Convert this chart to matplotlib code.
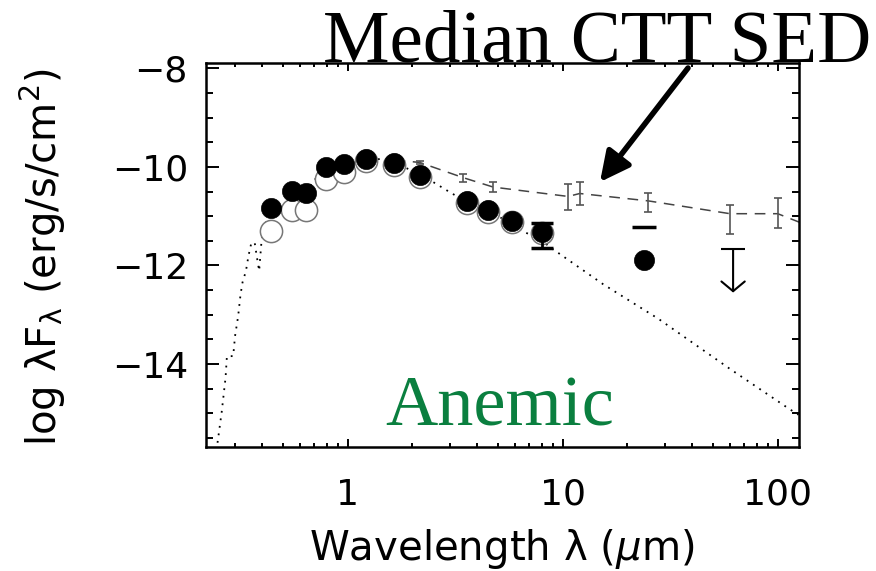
import matplotlib
matplotlib.use("Agg")
import matplotlib.pyplot as plt
from matplotlib.ticker import MultipleLocator, LogLocator, FixedLocator, FixedFormatter, NullFormatter

# photosphere model (um, log lambda F_lambda)
lam_model = [0.245, 0.249, 0.259, 0.270, 0.274, 0.293, 0.299, 0.309, 0.317, 0.324,
             0.336, 0.345, 0.356, 0.369, 0.378, 0.387, 0.397, 0.411, 0.418, 0.44,
             0.47, 0.50, 0.55, 0.60, 0.65, 0.72, 0.80, 0.90, 1.0, 1.2, 1.43, 1.65,
             2.0, 2.2, 2.5, 3.0, 3.6, 4.5, 5.8, 6.3, 8.0, 9.0, 15.4, 27.8, 60.0,
             113.0, 125.0]
logf_model = [-15.75, -15.53, -14.98, -14.28, -13.84, -13.84, -13.43, -13.03, -12.59, -12.34,
              -12.11, -11.81, -11.54, -11.54, -11.84, -12.11, -11.50, -11.25, -11.06, -10.95,
              -10.90, -10.80, -10.62, -10.50, -10.45, -10.20, -10.05, -9.97, -9.92, -9.86, -9.84, -9.92,
              -10.08, -10.18, -10.31, -10.52, -10.72, -10.92, -11.13, -11.27, -11.50, -11.67, -12.38, -13.08, -14.10,
              -14.91, -15.03]

# median CTT SED with quartile bars
lam_med = [1.65, 2.16, 3.45, 4.75, 10.6, 12.0, 25.0, 60.0, 100.0, 160.0]
logf_med = [-9.86, -9.91, -10.22, -10.41, -10.60, -10.54, -10.69, -10.95, -10.95, -11.30]
med_lo = [0.0, 0.03, 0.08, 0.10, 0.27, 0.23, 0.22, 0.42, 0.28, 0.0]
med_hi = [0.0, 0.03, 0.08, 0.10, 0.25, 0.24, 0.17, 0.17, 0.31, 0.0]

# observed and dereddened photometry
lam_phot = [0.44, 0.55, 0.64, 0.79, 0.96, 1.22, 1.64, 2.16, 3.6, 4.5, 5.8, 8.0]
logf_obs = [-11.30, -10.88, -10.88, -10.24, -10.11, -9.88, -9.97, -10.20, -10.73, -10.91, -11.12, -11.35]
lam_dered = [0.44, 0.55, 0.64, 0.79, 0.96, 1.22, 1.64, 2.16, 3.6, 4.5, 5.8, 8.0, 24.0]
logf_dered = [-10.83, -10.49, -10.54, -10.00, -9.95, -9.83, -9.92, -10.17, -10.70, -10.88, -11.10, -11.33, -11.88]

# IRAC 8um error, 24um bar and 70um upper limit
lam_err = [8.0]
logf_err = [-11.33]
err_lo = [0.31]
err_hi = [0.20]
lam_bar = [24.0]
logf_bar = [-11.21]
lam_ul = [62.0]
logf_ul = [-11.67]

xticks = [1, 10, 100]
xticklabels = ["1", "10", "100"]
yticks = [-14, -12, -10, -8]
yticklabels = ["\u221214", "\u221212", "\u221210", "\u22128"]

plt.rcParams["font.family"] = ["DejaVu Sans"]
plt.rcParams["mathtext.default"] = "regular"

W, H = 876, 571
fig = plt.figure(figsize=(W / 100, H / 100), dpi=100)
ax = fig.add_axes([206 / W, 1 - 447.3 / H, (799.3 - 206) / W, (447.3 - 62.7) / H])

ax.plot(lam_model, logf_model, color="black", lw=1.3, linestyle=(0, (1, 3.2)))
ax.plot(lam_med, logf_med, color="#444444", lw=1.1, linestyle=(0, (7, 5)))
ax.errorbar(lam_med[1:-1], logf_med[1:-1], yerr=[med_lo[1:-1], med_hi[1:-1]],
            fmt="none", ecolor="#555555", elinewidth=1.2, capsize=3, capthick=1.2)

ax.plot(lam_phot, logf_obs, "o", ms=16, mfc="white", mec="#777777", mew=1.1, linestyle="none")
ax.plot(lam_dered, logf_dered, "o", ms=14.5, mfc="black", mec="black", mew=0.5, linestyle="none")

ax.errorbar(lam_err, logf_err, yerr=[err_lo, err_hi], fmt="none", ecolor="black",
            elinewidth=2, capsize=8, capthick=2.5)
ax.plot(lam_bar, logf_bar, "_", ms=17, mew=2.5, color="black")

# upper limit: cap plus open arrow
ax.plot(lam_ul, logf_ul, "_", ms=17, mew=1.5, color="black")
for lx, ly in zip(lam_ul, logf_ul):
    ax.annotate("", xy=(lx, ly - 0.88), xytext=(lx, ly),
                arrowprops=dict(arrowstyle="->, head_length=0.5, head_width=0.6",
                                lw=1.5, color="black", mutation_scale=14,
                                shrinkA=0, shrinkB=0))

ax.set_xscale("log")
ax.set_xlim(0.219, 126)
ax.set_ylim(-15.69, -7.886)

ax.xaxis.set_major_locator(FixedLocator(xticks))
ax.xaxis.set_major_formatter(FixedFormatter(xticklabels))
ax.xaxis.set_minor_locator(LogLocator(base=10, subs=range(2, 10)))
ax.xaxis.set_minor_formatter(NullFormatter())
ax.yaxis.set_major_locator(FixedLocator(yticks))
ax.yaxis.set_major_formatter(FixedFormatter(yticklabels))
ax.yaxis.set_minor_locator(MultipleLocator(0.5))

for s in ax.spines.values():
    s.set_linewidth(1.8)
ax.tick_params(which="both", direction="in", top=True, right=True, width=1.4)
ax.tick_params(axis="x", which="major", length=5.8, pad=22, labelsize=26)
ax.tick_params(axis="x", which="minor", length=2.9)
ax.tick_params(axis="y", which="major", length=9.4, pad=13, labelsize=26)
ax.tick_params(axis="y", which="minor", length=5)

ax.set_xlabel("Wavelength \u03bb ($\\it{\\mu}$m)", fontsize=29)
ax.xaxis.set_label_coords(0.499, -0.208)
ax.set_ylabel("log \u03bbF$_\\lambda$ (erg/s/cm$^2$)", fontsize=29)
ax.yaxis.set_label_coords(-0.233, 0.495)

fig.text(323 / W, 1 - 62 / H, "Median CTT SED", family="Liberation Serif",
         fontsize=54, va="baseline", ha="left", color="black")
fig.text(385 / W, 1 - 425 / H, "Anemic", family="Liberation Serif",
         fontsize=52, va="baseline", ha="left", color="#0a7f3f")

ax.annotate("", xy=(600, H - 182), xytext=(688, H - 68),
            xycoords="figure pixels", textcoords="figure pixels",
            arrowprops=dict(arrowstyle="-|>, head_length=0.9, head_width=0.45",
                            lw=4, color="black", mutation_scale=20,
                            shrinkA=0, shrinkB=0))

fig.savefig("out.png", dpi=100)
